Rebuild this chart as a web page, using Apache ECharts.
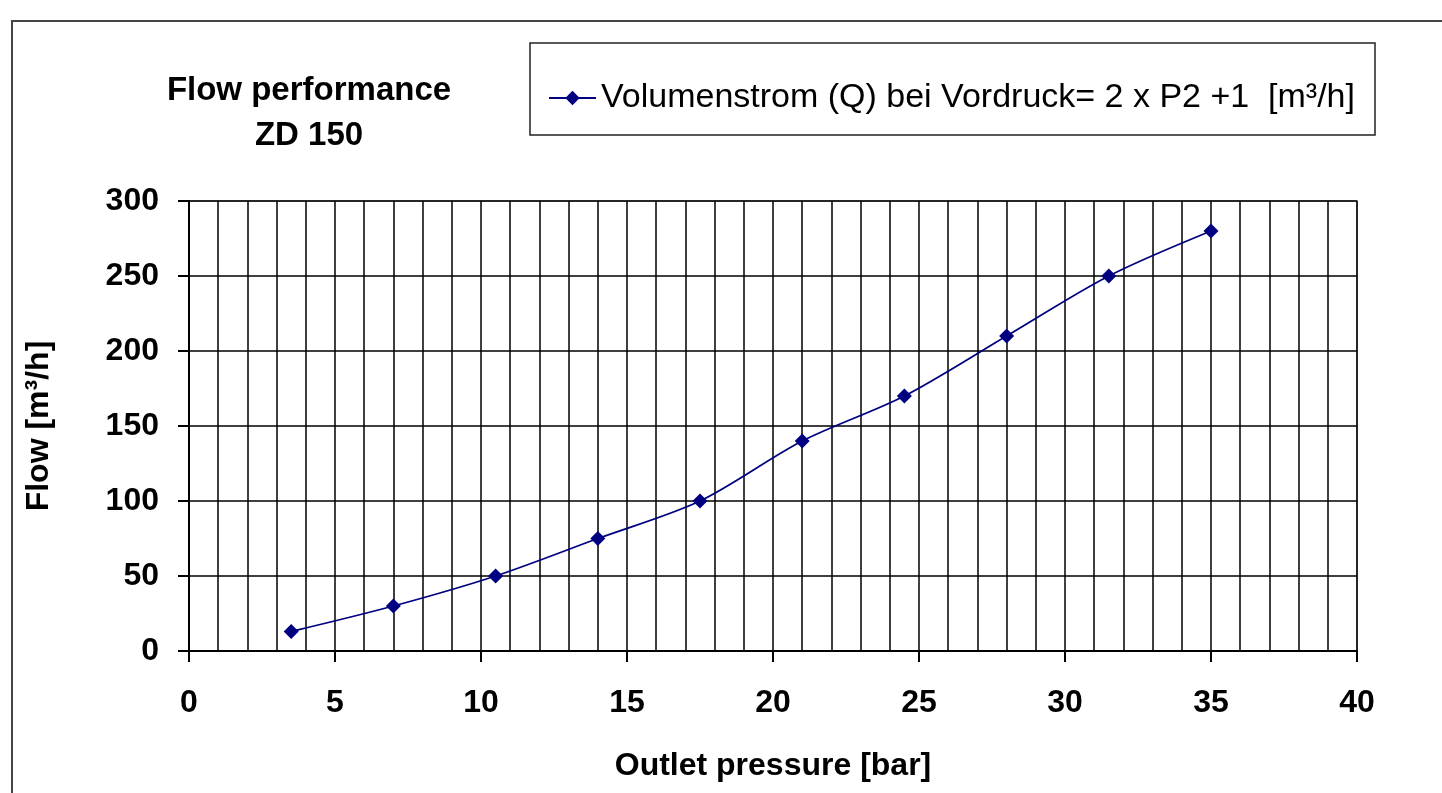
<!DOCTYPE html>
<html>
<head>
<meta charset="utf-8">
<script src="https://cdn.jsdelivr.net/npm/echarts@6/dist/echarts.min.js"></script>
<style>
html,body{margin:0;padding:0;background:#fff;}
#chart{width:1442px;height:793px;}
</style>
</head>
<body>
<div id="chart"></div>
<script>
const pressure = [3.5, 7, 10.5, 14, 17.5, 21, 24.5, 28, 31.5, 35];
const flow = [13, 30, 50, 75, 100, 140, 170, 210, 250, 280];
const seriesName = 'Volumenstrom (Q) bei Vordruck= 2 x P2 +1  [m³/h]';
const titleText = 'Flow performance\nZD 150';
const xName = 'Outlet pressure [bar]';
const yName = 'Flow [m³/h]';

const chart = echarts.init(document.getElementById('chart'));
const FF = '"Liberation Sans", Arial, sans-serif';
chart.setOption({
  backgroundColor: '#fff',
  animation: false,
  title: {
    text: titleText,
    left: 304, top: 63, textAlign: 'center',
    textStyle: { fontFamily: FF, fontWeight: 'bold', fontSize: 33, color: '#000', lineHeight: 45 }
  },
  graphic: [
    { type: 'rect', shape: { x: 12, y: 21, width: 1500, height: 800 }, style: { fill: 'none', stroke: '#444', lineWidth: 2 }, silent: true },
    { type: 'rect', shape: { x: 530, y: 43, width: 845, height: 92 }, style: { fill: 'none', stroke: '#222', lineWidth: 1.5 }, silent: true }
  ],
  legend: {
    left: 543, top: 76,
    itemWidth: 47, itemHeight: 18, itemGap: 4,
    textStyle: { fontFamily: FF, fontSize: 34, color: '#000' },
    data: [seriesName]
  },
  grid: { left: 189, right: 85, top: 201, bottom: 142, outerBoundsMode: 'none', containLabel: false, show: true, borderColor: '#999', borderWidth: 2 },
  xAxis: {
    type: 'value', min: 0, max: 40, interval: 5,
    name: xName, nameLocation: 'middle', nameGap: 99,
    nameTextStyle: { fontFamily: FF, fontWeight: 'bold', fontSize: 32, color: '#000' },
    axisLine: { show: true, lineStyle: { color: '#000', width: 2 } },
    axisTick: { show: true, inside: false, length: 11, lineStyle: { color: '#000', width: 2 } },
    axisLabel: { fontFamily: FF, fontWeight: 'bold', fontSize: 32, color: '#000', margin: 36 },
    splitLine: { show: true, lineStyle: { color: '#000', width: 1.5 } },
    minorTick: { show: false, splitNumber: 5 },
    minorSplitLine: { show: true, lineStyle: { color: '#000', width: 1.5 } }
  },
  yAxis: {
    type: 'value', min: 0, max: 300, interval: 50,
    name: yName, nameLocation: 'middle', nameGap: 134, nameRotate: 90,
    nameTextStyle: { fontFamily: FF, fontWeight: 'bold', fontSize: 32, color: '#000' },
    axisLine: { show: true, lineStyle: { color: '#000', width: 2 } },
    axisTick: { show: true, length: 11, lineStyle: { color: '#000', width: 2 } },
    axisLabel: { fontFamily: FF, fontWeight: 'bold', fontSize: 32, color: '#000', margin: 30 },
    splitLine: { show: true, lineStyle: { color: '#000', width: 1.5 } }
  },
  series: [{
    name: seriesName,
    type: 'line',
    data: pressure.map((p, i) => [p, flow[i]]),
    smooth: 0.3,
    symbol: 'diamond', symbolSize: 15,
    lineStyle: { color: '#000080', width: 1.8 },
    itemStyle: { color: '#000080' },
    z: 5
  }]
});
</script>
</body>
</html>
